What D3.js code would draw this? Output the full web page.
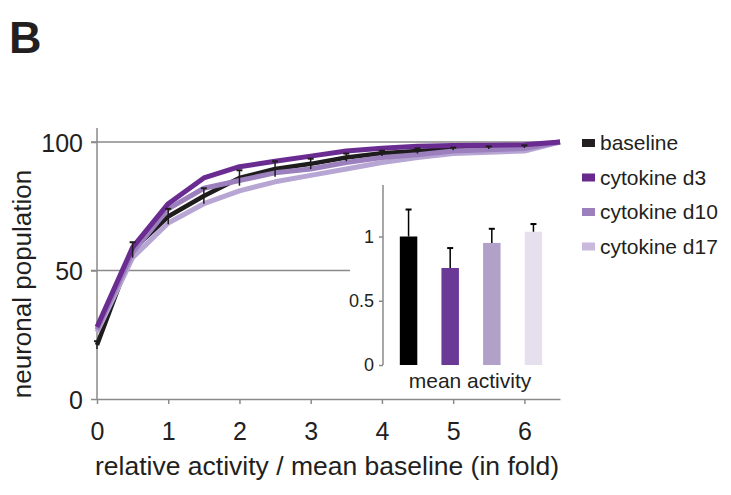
<!DOCTYPE html>
<html>
<head>
<meta charset="utf-8">
<script src="https://cdn.jsdelivr.net/npm/d3@7"></script>
<style>
	body { margin: 0; background: #fff; }
	svg text { font-family: Arial, "Liberation Sans", sans-serif; fill: #231f20; }
</style>
</head>
<body>
<div id="chart"></div>
<script>
// data
var fold = [0, 0.5, 1, 1.5, 2, 2.5, 3, 3.5, 4, 4.5, 5, 5.5, 6, 6.5];
var baseline = [21, 58, 71, 79, 86, 89.5, 91.5, 94, 95.6, 96.5, 97.3, 97.8, 98.2, 100];
var baselineErr = [1.5, 3, 3, 3, 3, 3, 2, 1.5, 1, 1, 0.5, 0.5, 0.5, 0];
var cytoD3 = [28, 59, 76, 86, 90.4, 92.5, 94.5, 96.5, 97.6, 98.3, 98.6, 98.7, 98.9, 100];
var cytoD10 = [27, 57, 74, 82, 85, 88, 89.5, 92, 94, 95, 96.5, 97, 97.5, 100];
var cytoD17 = [26, 55, 68.5, 76, 81, 84.5, 87, 89.5, 92, 94, 95.5, 96, 96.5, 100];

var seriesNames = ['baseline', 'cytokine d3', 'cytokine d10', 'cytokine d17'];
var lineColours = ['#1f1c1d', '#6a2c91', '#9b80bd', '#b7a5d3'];
var legendColours = ['#231f20', '#68298f', '#9b80bd', '#c9b9dc'];

var meanActivity = [1.0, 0.755, 0.95, 1.037];
var meanErr = [0.21, 0.155, 0.11, 0.06];
var barColours = ['#000000', '#6b3a96', '#b1a1c8', '#e6e0ee'];

var W = 731, H = 495;
var svg = d3.select('#chart').append('svg')
	.attr('width', W).attr('height', H);

svg.append('text')
	.attr('x', 9).attr('y', 53)
	.style('font-size', '45px').style('font-weight', 'bold')
	.text('B');

// main plot
var x = d3.scaleLinear().domain([0, 6.5]).range([97, 560]);
var y = d3.scaleLinear().domain([0, 100]).range([399, 142]);
var axisCol = '#8a8a8a';

// gridlines
svg.append('line')
	.attr('x1', 91).attr('x2', x(6.5))
	.attr('y1', y(100)).attr('y2', y(100))
	.attr('stroke', axisCol).attr('stroke-width', 1.5);
svg.append('line')
	.attr('x1', 91).attr('x2', 350)
	.attr('y1', y(50)).attr('y2', y(50))
	.attr('stroke', axisCol).attr('stroke-width', 1.5);

var xAxis = svg.append('g')
	.attr('transform', 'translate(0,' + y(0) + ')')
	.call(d3.axisBottom(x).tickValues([0, 1, 2, 3, 4, 5, 6])
		.tickFormat(d3.format('d'))
		.tickSize(5).tickSizeOuter(0).tickPadding(18));
var yAxis = svg.append('g')
	.attr('transform', 'translate(' + x(0) + ',0)')
	.call(d3.axisLeft(y).tickValues([0, 50, 100])
		.tickFormat(d3.format('d'))
		.tickSize(6).tickSizeOuter(0).tickPadding(8));

[xAxis, yAxis].forEach(function (g) {
	g.select('.domain').attr('stroke', axisCol).attr('stroke-width', 1.5);
	g.selectAll('.tick line').attr('stroke', axisCol).attr('stroke-width', 1.5);
	g.selectAll('.tick text')
		.style('font-size', '25px')
		.style('font-family', 'Arial, "Liberation Sans", sans-serif')
		.attr('fill', '#231f20');
});
yAxis.select('.domain').attr('d', 'M0,128V' + y(0));
yAxis.selectAll('.tick text').attr('dy', '0.36em');

svg.append('text')
	.attr('transform', 'translate(31,' + 284 + ') rotate(-90)')
	.attr('text-anchor', 'middle')
	.style('font-size', '26px')
	.text('neuronal population');
svg.append('text')
	.attr('x', 327).attr('y', 475)
	.attr('text-anchor', 'middle')
	.style('font-size', '26.5px')
	.text('relative activity / mean baseline (in fold)');

var line = d3.line()
	.x(function (d, i) { return x(fold[i]); })
	.y(function (d) { return y(d); });

var allSeries = [baseline, cytoD17, cytoD10, cytoD3];
var allColours = [lineColours[0], lineColours[3], lineColours[2], lineColours[1]];
var widths = [4.5, 5, 5, 5];

allSeries.forEach(function (s, k) {
	svg.append('path')
		.datum(s)
		.attr('d', line)
		.attr('fill', 'none')
		.attr('stroke', allColours[k])
		.attr('stroke-width', widths[k])
		.attr('stroke-linejoin', 'round');
});

// baseline error bars
var eb = svg.append('g');
baseline.forEach(function (v, i) {
	if (!baselineErr[i]) return;
	var cx = x(fold[i]);
	eb.append('line')
		.attr('x1', cx).attr('x2', cx)
		.attr('y1', y(v - baselineErr[i])).attr('y2', y(v + baselineErr[i]))
		.attr('stroke', '#1f1c1d').attr('stroke-width', 1.5);
	eb.append('line')
		.attr('x1', cx - 3).attr('x2', cx + 3)
		.attr('y1', y(v + baselineErr[i])).attr('y2', y(v + baselineErr[i]))
		.attr('stroke', '#1f1c1d').attr('stroke-width', 2);
});

// legend
var leg = svg.append('g');
seriesNames.forEach(function (n, i) {
	var ly = 143 + i * 34.5;
	leg.append('rect')
		.attr('x', 582).attr('y', ly - 4)
		.attr('width', 13).attr('height', 8)
		.attr('fill', legendColours[i]);
	leg.append('text')
		.attr('x', 600).attr('y', ly)
		.attr('dy', '0.35em')
		.style('font-size', '21px')
		.text(n);
});

// inset bar chart
var inset = svg.append('g');
inset.append('rect')
	.attr('x', 351).attr('y', 182)
	.attr('width', 205).attr('height', 212)
	.attr('fill', '#fff');

var iy = d3.scaleLinear().domain([0, 1]).range([365, 236.5]);
var ix = d3.scaleBand().domain(seriesNames).range([384, 558]).paddingInner(0.58).paddingOuter(0.38);

var iAxis = inset.append('g')
	.attr('transform', 'translate(383,0)')
	.call(d3.axisLeft(iy).tickValues([0, 0.5, 1])
		.tickFormat(function (d) { return d; })
		.tickSize(4).tickSizeOuter(0).tickPadding(5));
iAxis.select('.domain').attr('d', 'M0,185V365')
	.attr('stroke', axisCol).attr('stroke-width', 1.5);
iAxis.selectAll('.tick line').attr('stroke', axisCol).attr('stroke-width', 1.5);
iAxis.selectAll('.tick text')
	.style('font-size', '18px')
	.style('font-family', 'Arial, "Liberation Sans", sans-serif')
	.attr('fill', '#231f20');

inset.selectAll('.bar')
	.data(meanActivity)
	.enter().append('rect')
	.attr('x', function (d, i) { return ix(seriesNames[i]); })
	.attr('y', function (d) { return iy(d); })
	.attr('width', ix.bandwidth())
	.attr('height', function (d) { return iy(0) - iy(d); })
	.attr('fill', function (d, i) { return barColours[i]; });

meanActivity.forEach(function (v, i) {
	var cx = ix(seriesNames[i]) + ix.bandwidth() / 2;
	inset.append('line')
		.attr('x1', cx).attr('x2', cx)
		.attr('y1', iy(v)).attr('y2', iy(v + meanErr[i]))
		.attr('stroke', '#000').attr('stroke-width', 1.5);
	inset.append('line')
		.attr('x1', cx - 3).attr('x2', cx + 3)
		.attr('y1', iy(v + meanErr[i])).attr('y2', iy(v + meanErr[i]))
		.attr('stroke', '#000').attr('stroke-width', 2);
});

inset.append('text')
	.attr('x', 470).attr('y', 388)
	.attr('text-anchor', 'middle')
	.style('font-size', '21px')
	.text('mean activity');
</script>
</body>
</html>
